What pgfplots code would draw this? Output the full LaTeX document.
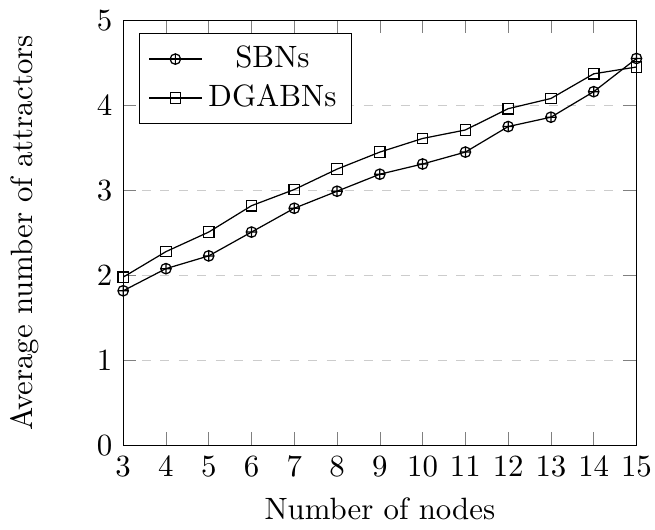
\documentclass[border=0pt]{standalone}
\usepackage{pgfplots}
\pgfplotsset{compat=1.18}
\begin{document}
\begin{tikzpicture}
\begin{axis}[
	scale only axis,
	width=166.5pt,
	height=138pt,
	xlabel=Number of nodes,
	ylabel=Average number of attractors,
	ylabel shift=12pt,
	xmin=3, xmax=15,
	ymin=0, ymax=5,
	xtick={3,4,...,15},
	ytick={0,1,...,5},
	xticklabel style={inner xsep=1pt},
	ymajorgrids=true,
	grid style={dashed,gray!40},
	legend pos=north west,
	legend cell align=center,
	mark size=1.7pt,
	]
	\addplot [mark=oplus,black] coordinates {
		(3, 1.82)
		(4, 2.08)
		(5, 2.23)
		(6, 2.51)
		(7, 2.79)
		(8, 2.99)
		(9, 3.19)
		(10, 3.31)
		(11, 3.45)
		(12, 3.75)
		(13, 3.86)
		(14, 4.16)
		(15, 4.55)
	};
	\addplot [mark=square,black] coordinates {
		(3, 1.98)
		(4, 2.28)
		(5, 2.51)
		(6, 2.82)
		(7, 3.01)
		(8, 3.25)
		(9, 3.45)
		(10, 3.61)
		(11, 3.71)
		(12, 3.96)
		(13, 4.08)
		(14, 4.37)
		(15, 4.45)
	};
	\legend{SBNs, DGABNs}
\end{axis}
\end{tikzpicture}
\end{document}
